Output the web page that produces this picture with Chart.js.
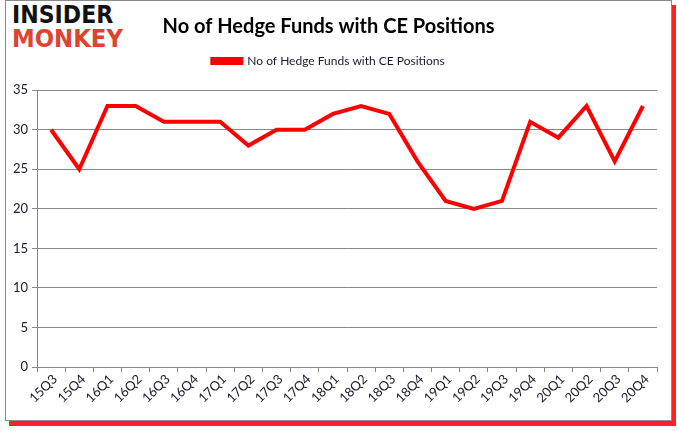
<!DOCTYPE html>
<html>
<head>
<meta charset="utf-8">
<script src="https://cdn.jsdelivr.net/npm/chart.js@4.4.1/dist/chart.umd.min.js"></script>
<style>
  html, body { margin: 0; padding: 0; background: #fff; }
  #frame {
    position: absolute; left: 5px; top: 0; width: 665px; height: 419px;
    border: 1px solid #8a8a8a; background: #fff;
    box-shadow: 4px 5px 0 #ff2020;
  }
  #logo { position: absolute; left: 12px; top: 3px; font-family: 'DejaVu Sans', sans-serif; font-weight: bold; line-height: 24px; }
  #logo .a { color: #111; font-size: 24px; display: block; transform: scaleX(0.92); transform-origin: left; }
  #logo .b { color: #de4330; font-size: 24px; display: block; transform: scaleX(0.95); transform-origin: left; }
  #chart { position: absolute; left: 0; top: 0; }
</style>
</head>
<body>
<div id="frame"></div>
<div id="logo"><span class="a">INSIDER</span><span class="b">MONKEY</span></div>
<canvas id="chart" width="677" height="431"></canvas>
<script>
// Quarter labels and hedge fund counts
const quarters = ['15Q3', '15Q4', '16Q1', '16Q2', '16Q3', '16Q4', '17Q1', '17Q2', '17Q3', '17Q4', '18Q1',
  '18Q2', '18Q3', '18Q4', '19Q1', '19Q2', '19Q3', '19Q4', '20Q1', '20Q2', '20Q3', '20Q4'];
const fundCounts = [30, 25, 33, 33, 31, 31, 31, 28, 30, 30, 32, 33, 32, 26, 21, 20, 21, 31, 29, 33, 26, 33];
const yTicks = [0, 5, 10, 15, 20, 25, 30, 35];

const seriesName = 'No of Hedge Funds with CE Positions';
const gridGray = '#878787';
const fontFamily = "Lato, 'Open Sans', sans-serif";

// Slanted quarter labels, placed from the category scale's own tick pixels
const slantedLabels = {
  id: 'slantedLabels',
  afterDraw(chart) {
    const xs = chart.scales.x;
    const c = chart.ctx;
    c.save();
    c.font = '13px ' + fontFamily;
    c.fillStyle = '#1a1a2e';
    c.textAlign = 'right';
    c.textBaseline = 'middle';
    quarters.forEach((q, i) => {
      c.save();
      c.translate(xs.getPixelForTick(i) + 4, xs.top + 10);
      c.rotate(-Math.PI / 4);
      c.fillText(q, 0, 0);
      c.restore();
    });
    c.restore();
  }
};

const ctx = document.getElementById('chart').getContext('2d');

new Chart(ctx, {
  type: 'line',
  data: {
    labels: quarters,
    datasets: [{
      label: seriesName,
      data: fundCounts,
      borderColor: '#ff0000',
      backgroundColor: '#ff0000',
      borderWidth: 4,
      pointRadius: 0,
      tension: 0,
      fill: false
    }]
  },
  options: {
    responsive: false,
    animation: false,
    layout: { padding: { left: 0, right: 20, top: 5, bottom: 0 } },
    scales: {
      x: {
        offset: true,
        grid: { display: true, drawOnChartArea: false, drawTicks: true, tickLength: 5, offset: true, color: gridGray },
        border: { display: true, color: gridGray },
        ticks: { display: false, autoSkip: false },
        afterFit: (scale) => { scale.height = 64; }
      },
      y: {
        min: 0,
        max: 35,
        afterBuildTicks: (scale) => { scale.ticks = yTicks.map(v => ({ value: v })); },
        grid: { color: gridGray, drawTicks: true, tickLength: 5 },
        border: { display: true, color: gridGray },
        ticks: { color: '#1a1a2e', font: { family: fontFamily, size: 13 }, padding: 4 },
        afterFit: (scale) => { scale.width = 37; }
      }
    },
    plugins: {
      title: {
        display: true,
        text: 'No of Hedge Funds with CE Positions',
        color: '#000',
        font: { family: fontFamily, size: 20, weight: 'bold' },
        padding: { top: 10, bottom: 6 }
      },
      // empty spacer box under the legend
      subtitle: {
        display: true,
        text: '',
        weight: 500,
        font: { size: 1 },
        padding: { top: 0, bottom: 12 }
      },
      legend: {
        display: true,
        labels: {
          color: '#1a1a2e',
          font: { family: fontFamily, size: 12 },
          boxWidth: 29,
          boxHeight: 4,
          padding: 10
        }
      },
      tooltip: { enabled: false }
    }
  },
  plugins: [slantedLabels]
});
</script>
</body>
</html>
